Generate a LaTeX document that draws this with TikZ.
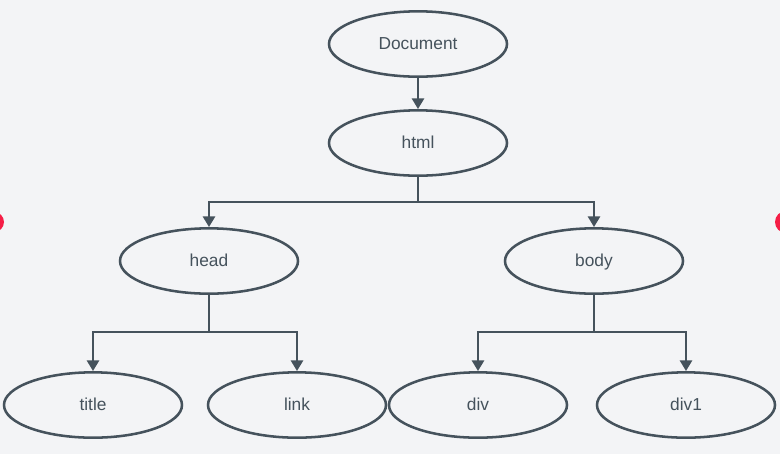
\documentclass[tikz,border=0pt]{standalone}
\usepackage{fontspec}
\setmainfont{Liberation Sans}
\usetikzlibrary{arrows.meta,shapes.geometric}
\definecolor{slate}{RGB}{69,82,92}
\definecolor{bgcol}{RGB}{243,244,246}
\definecolor{dotred}{RGB}{245,30,70}
\tikzset{
  elem/.style={draw=slate, line width=1.9pt, ellipse, minimum width=133.5pt, minimum height=49pt,
    inner sep=0pt, text=slate, text height=1em, text depth=0.2em, font=\fontsize{13}{15}\selectfont},
  conn/.style={draw=slate, line width=1.9pt, -{Triangle[length=8pt,width=9pt]}},
}

\begin{document}
\begin{tikzpicture}[x=0.75pt, y=-0.75pt]
    \useasboundingbox (0,0) rectangle (780,454);
    \clip (0,0) rectangle (780,454);
    \fill[bgcol] (0,0) rectangle (780,454);
    \fill[dotred] (-6,222) circle (10);
    \fill[dotred] (786,222) circle (11);
    \node[elem] (doc)  at (418,44)  {Document};
    \node[elem] (html) at (418,143) {html};
    \node[elem] (head) at (209,261) {head};
    \node[elem] (body) at (594,261) {body};
    \node[elem] (title) at (93,405)  {title};
    \node[elem] (link)  at (297,405) {link};
    \node[elem] (div)   at (478,405) {div};
    \node[elem] (div1)  at (686,405) {div1};
    \draw[conn] (doc.south) -- (html.north);
    \foreach \child in {head,body}{
        \draw[conn] (html.south) -- ++(0,25) -| (\child.north);
    }
    \foreach \child in {title,link}{
        \draw[conn] (head.south) -- ++(0,37) -| (\child.north);
    }
    \foreach \child in {div,div1}{
        \draw[conn] (body.south) -- ++(0,37) -| (\child.north);
    }
\end{tikzpicture}
\end{document}
